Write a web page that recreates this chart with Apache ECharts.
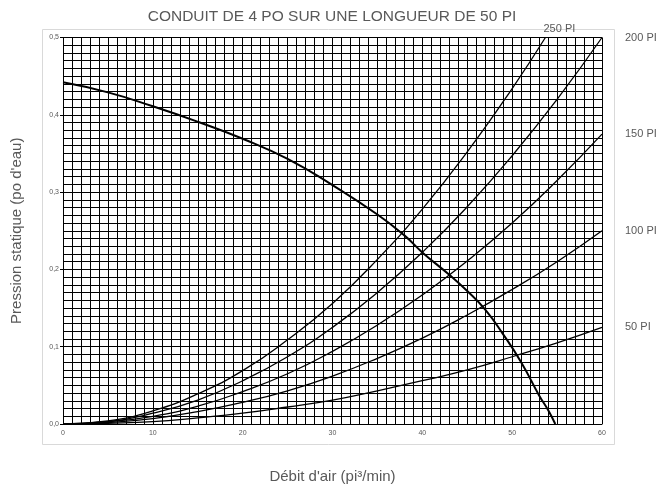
<!DOCTYPE html>
<html>
<head>
<meta charset="utf-8">
<title>Conduit de 4 po</title>
<script src="https://cdn.jsdelivr.net/npm/echarts@6/dist/echarts.min.js"></script>
<style>
    html, body { margin: 0; padding: 0; background: #fff; }
    #chart { width: 664px; height: 489px; }
</style>
</head>
<body>
<div id="chart"></div>
<script>
// debit (pi3/min) commun aux courbes de conduit
var debit = [0, 5, 10, 15, 20, 25, 30, 35, 40, 45, 50, 55, 60];

// pression statique, par longueur de conduit
var conduit50 = [0, 0.001, 0.003, 0.008, 0.014, 0.022, 0.031, 0.043, 0.056, 0.070, 0.087, 0.105, 0.125];
var conduit100 = [0, 0.002, 0.007, 0.016, 0.028, 0.043, 0.062, 0.085, 0.111, 0.141, 0.174, 0.210, 0.250];
var conduit150 = [0, 0.003, 0.010, 0.023, 0.042, 0.065, 0.094, 0.128, 0.167, 0.211, 0.260, 0.315, 0.375];
var conduit200 = [0, 0.003, 0.014, 0.031, 0.056, 0.087, 0.125, 0.170, 0.222, 0.281, 0.347, 0.420, 0.500];
var debit250 = [0, 5, 10, 15, 20, 25, 30, 35, 40, 45, 50, 53.7];
var conduit250 = [0, 0.004, 0.017, 0.039, 0.069, 0.109, 0.156, 0.213, 0.278, 0.352, 0.434, 0.500];

// courbe du ventilateur
var debitVent = [0, 5, 10, 15, 20, 25, 30, 35, 38, 40, 43, 45, 47, 49, 51, 53, 54, 54.8];
var pressionVent = [0.442, 0.429, 0.411, 0.391, 0.369, 0.343, 0.309, 0.271, 0.244, 0.222, 0.193, 0.172, 0.148, 0.116, 0.080, 0.037, 0.018, 0];

var noms = ['50 PI', '100 PI', '150 PI', '200 PI', '250 PI'];

function paires(xs, ys) {
    var out = [];
    for (var i = 0; i < xs.length; i++) {
        out.push([xs[i], ys[i]]);
    }
    return out;
}

var chart = echarts.init(document.getElementById('chart'));

var gris = '#595959';
var police = '"Liberation Sans", Arial, sans-serif';

function serieConduit(nom, xs, ys, labelOpt) {
    return {
        name: nom,
        type: 'line',
        smooth: true,
        showSymbol: false,
        silent: true,
        data: paires(xs, ys),
        lineStyle: { color: '#000', width: 1.3 },
        endLabel: Object.assign({
            show: true,
            formatter: nom,
            color: gris,
            fontSize: 11,
            fontFamily: police,
            distance: 23
        }, labelOpt || {})
    };
}

var option = {
    animation: false,
    backgroundColor: '#fff',
    title: {
        text: 'CONDUIT DE 4 PO SUR UNE LONGUEUR DE 50 PI',
        left: 'center',
        top: 4,
        textStyle: {
            color: gris,
            fontWeight: 'normal',
            fontSize: 15.5,
            fontFamily: police
        }
    },
    grid: {
        left: 63,
        right: 62,
        top: 37.5,
        bottom: 63.5
    },
    graphic: [
        {
            type: 'rect',
            silent: true,
            z: -1,
            shape: { x: 42.5, y: 29.5, width: 572, height: 415 },
            style: { fill: 'none', stroke: '#d9d9d9', lineWidth: 1 }
        }
    ],
    xAxis: {
        type: 'value',
        min: 0,
        max: 60,
        interval: 10,
        name: 'Débit d\'air (pi³/min)',
        nameLocation: 'middle',
        nameGap: 45,
        nameTextStyle: { color: gris, fontSize: 15, fontFamily: police },
        axisLine: { show: true, lineStyle: { color: '#000', width: 1 } },
        axisTick: { show: false },
        axisLabel: { color: gris, fontSize: 7, margin: 6, fontFamily: police },
        splitLine: { show: true, lineStyle: { color: '#000', width: 1 } },
        minorTick: { show: false, splitNumber: 10 },
        minorSplitLine: { show: true, lineStyle: { color: '#000', width: 1 } }
    },
    yAxis: {
        type: 'value',
        min: 0,
        max: 0.5,
        interval: 0.1,
        name: 'Pression statique (po d\'eau)',
        nameLocation: 'middle',
        nameGap: 39,
        nameTextStyle: { color: gris, fontSize: 15, fontFamily: police },
        axisLine: { show: true, lineStyle: { color: '#000', width: 1 } },
        axisTick: { show: true, length: 3, lineStyle: { color: '#000' } },
        axisLabel: {
            color: gris,
            fontSize: 7,
            margin: 4,
            fontFamily: police,
            formatter: function (v) {
                return v.toFixed(1).replace('.', ',');
            }
        },
        splitLine: { show: true, lineStyle: { color: '#000', width: 1 } },
        minorTick: { show: false, splitNumber: 10 },
        minorSplitLine: { show: true, lineStyle: { color: '#000', width: 1 } }
    },
    series: [
        serieConduit(noms[0], debit, conduit50),
        serieConduit(noms[1], debit, conduit100),
        serieConduit(noms[2], debit, conduit150),
        serieConduit(noms[3], debit, conduit200),
        serieConduit(noms[4], debit250, conduit250, {
            distance: 0,
            align: 'center',
            verticalAlign: 'bottom',
            offset: [14, -3]
        }),
        {
            name: 'Ventilateur',
            type: 'line',
            smooth: true,
            showSymbol: false,
            silent: true,
            data: paires(debitVent, pressionVent),
            lineStyle: { color: '#000', width: 2 }
        }
    ]
};

chart.setOption(option);

window.onresize = function () {
    chart.resize();
};
</script>
</body>
</html>
